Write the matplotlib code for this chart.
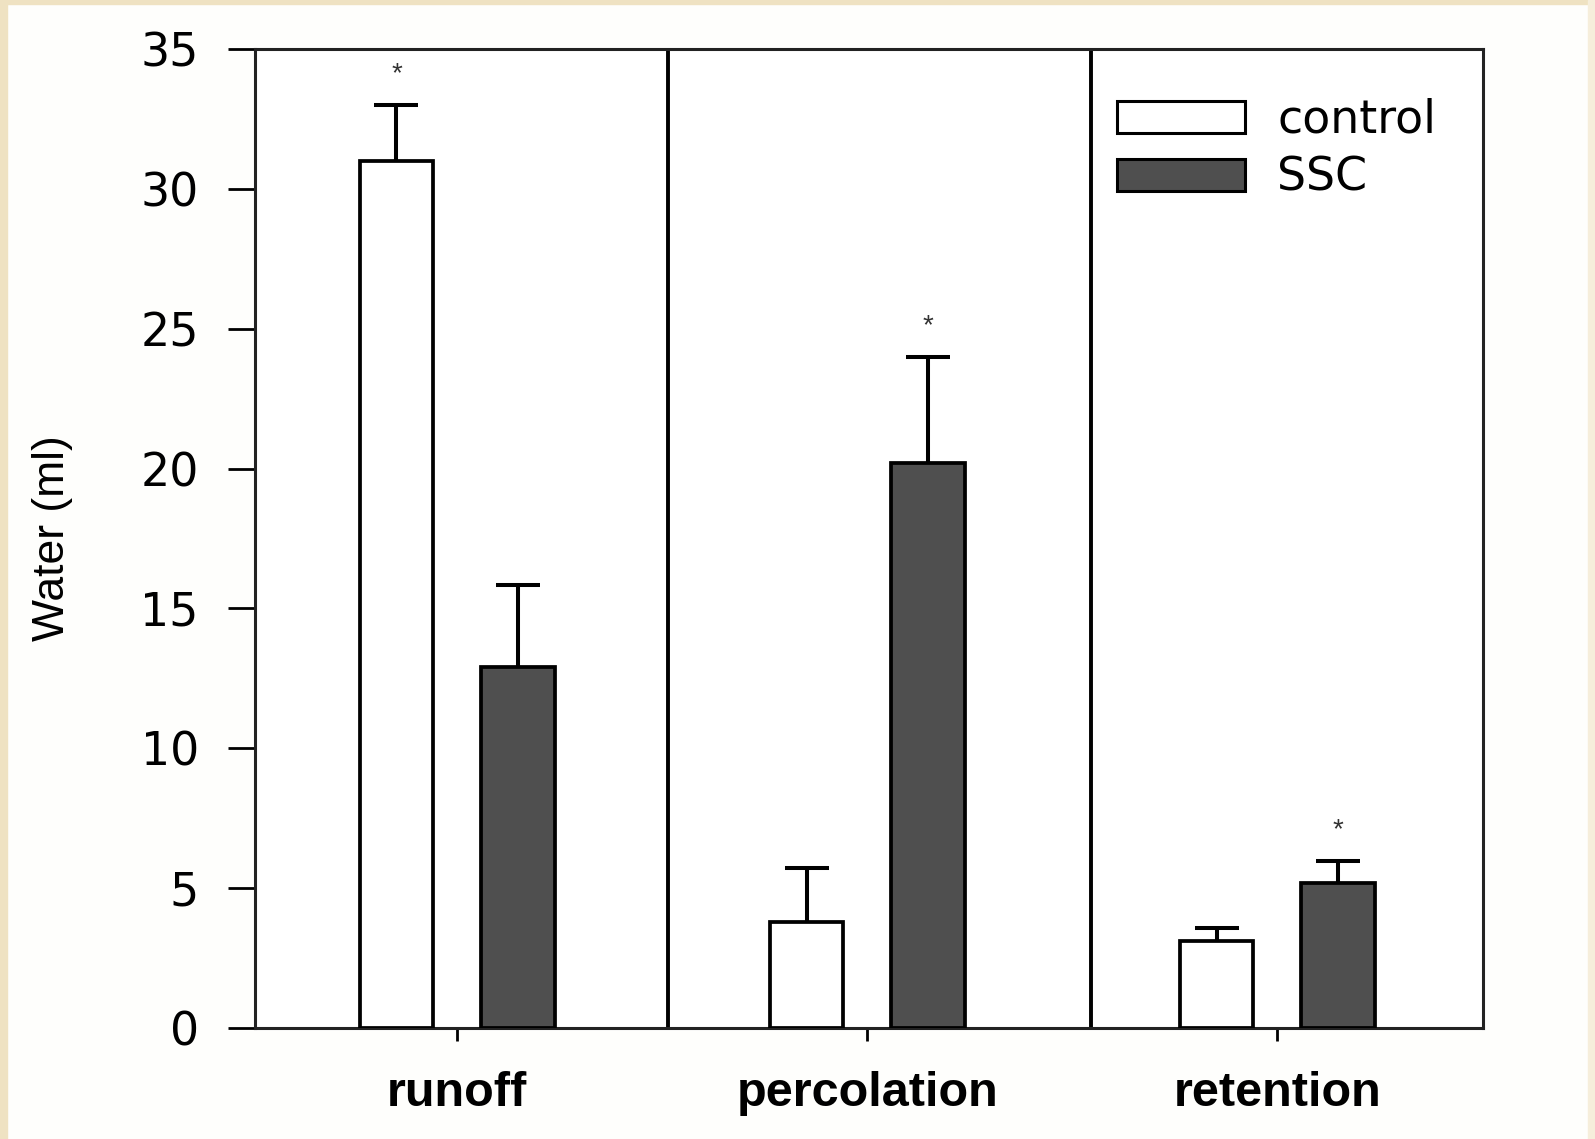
import matplotlib
matplotlib.use("Agg")
import matplotlib.pyplot as plt
from matplotlib.patches import Rectangle
import numpy as np

# data
categories = ["runoff", "percolation", "retention"]
control = [31.0, 3.77, 3.1]
control_err = [2.0, 1.95, 0.48]
ssc = [12.9, 20.2, 5.17]
ssc_err = [2.93, 3.8, 0.8]
# which bar gets the asterisk: 0 = control, 1 = SSC
star_on = [0, 1, 1]
dividers = [0.515, 1.546]

plt.rcParams['font.family'] = ['Liberation Sans', 'DejaVu Sans']

fig = plt.figure(figsize=(15.95, 11.39), dpi=100)
fig.patch.set_facecolor("#fefefc")
# beige frame round the slide
fig.patches.append(Rectangle((0, 0.9965), 1, 0.0035, transform=fig.transFigure, color="#efe2c2", zorder=0))
fig.patches.append(Rectangle((0, 0), 0.0045, 1, transform=fig.transFigure, color="#efe2c2", zorder=0))
fig.patches.append(Rectangle((0.9955, 0), 0.0045, 1, transform=fig.transFigure, color="#f6eedb", zorder=0))

ax = fig.add_axes([0.1599, 0.0975, 0.7699, 0.8595])
ax.set_facecolor("white")

x = np.arange(len(categories))
w = 0.18
off = 0.148

ax.bar(x - off, control, w, color="white", edgecolor="black", linewidth=2.7, label="control", zorder=3)
ax.bar(x + off, ssc, w, color="#4f4f4f", edgecolor="black", linewidth=2.7, label="SSC", zorder=3)

# upper error bars only
for xs, vals, errs in [(x - off, control, control_err), (x + off, ssc, ssc_err)]:
    eb = ax.errorbar(xs, vals, yerr=[np.zeros(3), errs], fmt="none", ecolor="black",
                     elinewidth=2.9, capthick=2.9, capsize=15.5, zorder=4)
    for cl in eb[1]:
        if np.allclose(cl.get_ydata(), vals):
            cl.set_visible(False)

for i in range(len(categories)):
    if star_on[i] == 0:
        xs, top = x[i] - off, control[i] + control_err[i]
    else:
        xs, top = x[i] + off, ssc[i] + ssc_err[i]
    ax.text(xs, top + 1.1, "*", ha="center", va="center", fontsize=20, color="#333333")

for d in dividers:
    ax.axvline(d, color="black", linewidth=2.8, zorder=2)

ax.set_xlim(-0.493, 2.502)
ax.set_ylim(0, 35)
ax.set_yticks(np.arange(0, 36, 5))
ax.set_xticks(x)
ax.set_xticklabels(categories, fontsize=35, fontweight="bold")
for lab in ax.get_yticklabels():
    lab.set_family(["DejaVu Sans"])
ax.tick_params(axis="y", direction="out", length=19.5, width=2, labelsize=33, pad=21)
ax.tick_params(axis="x", direction="out", length=9, width=2, pad=22)

for s in ax.spines.values():
    s.set_linewidth(2.2)
    s.set_color("#222222")

ax.set_ylabel("Water (ml)", fontsize=32)
ax.yaxis.set_label_coords(-0.148, 0.5)

leg = ax.legend(loc="upper left", bbox_to_anchor=(0.702, 0.95), frameon=False,
                prop={"family": ["DejaVu Sans"], "size": 33}, handlelength=2.79, handleheight=0.71,
                handletextpad=0.7, labelspacing=0.28, borderpad=0, borderaxespad=0)
for p in leg.get_patches():
    p.set_linewidth(2.2)

fig.savefig("out.png", dpi=100, facecolor=fig.get_facecolor())
